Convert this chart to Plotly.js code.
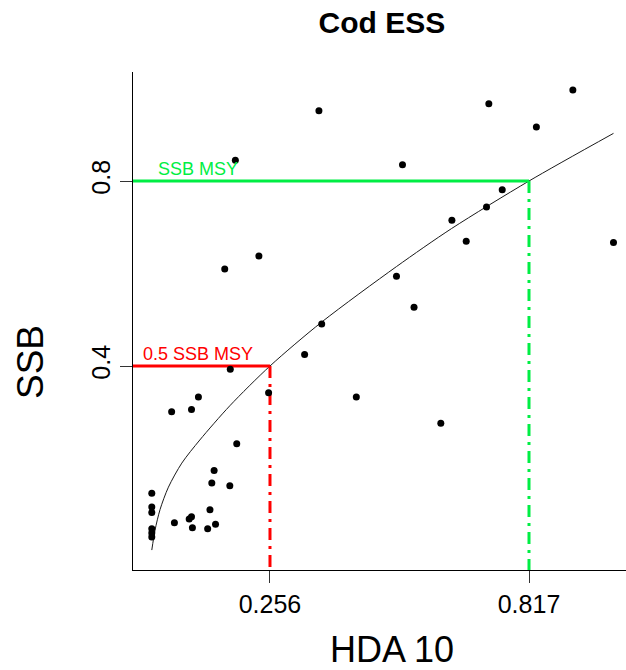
<!DOCTYPE html>
<html>
<head>
<meta charset="utf-8">
<script src="https://cdn.plot.ly/plotly-3.0.1.min.js"></script>
<style>html,body{margin:0;padding:0;background:#fff;}#chart{width:626px;height:670px;}</style>
</head>
<body>
<div id="chart"></div>
<script>
const hda = [0.000,0.000,0.000,0.000,0.000,0.000,0.049,0.081,0.086,0.088,0.126,0.121,0.138,0.130,0.135,0.169,0.184,0.043,0.086,0.101,0.170,0.253,0.331,0.368,0.443,0.158,0.232,0.181,0.362,0.530,0.568,0.626,0.543,0.650,0.681,0.725,0.759,0.730,0.833,0.912,1.000];
const ssb = [0.125,0.095,0.083,0.048,0.039,0.030,0.061,0.069,0.074,0.050,0.089,0.048,0.058,0.147,0.174,0.141,0.232,0.301,0.306,0.333,0.393,0.342,0.425,0.491,0.333,0.610,0.638,0.845,0.952,0.594,0.527,0.276,0.835,0.715,0.670,0.744,0.781,0.967,0.917,0.997,0.667];

// Fitted curve
const fitX = [0.000,0.007,0.018,0.036,0.065,0.104,0.169,0.256,0.368,0.530,0.649,0.817,1.000];
const fitY = [0.002,0.045,0.090,0.138,0.190,0.240,0.314,0.400,0.495,0.615,0.697,0.800,0.903];

// Reference points
const msyHda = 0.817, msySsb = 0.8;
const halfHda = 0.256, halfSsb = 0.4;

const xTicks = [0.256, 0.817];
const xTickText = ['0.256', '0.817'];
const yTicks = [0.4, 0.8];
const yTickText = ['0.4', '0.8'];

const xRange = [-0.0407, 1.0271];
const yRange = [-0.0411, 1.0357];

const red = '#ff0000';
const green = '#00ee44';
const dd = '12px,6px,3px,6px';

const traces = [
  {x: fitX, y: fitY, mode: 'lines', line: {color: '#1a1a1a', width: 1, shape: 'spline', smoothing: 0.8}, hoverinfo: 'skip'},
  {x: [xRange[0], halfHda], y: [halfSsb, halfSsb], mode: 'lines', line: {color: red, width: 3}},
  {x: [halfHda, halfHda], y: [halfSsb, yRange[0]], mode: 'lines', line: {color: red, width: 3, dash: dd}},
  {x: [xRange[0], msyHda], y: [msySsb, msySsb], mode: 'lines', line: {color: green, width: 3}},
  {x: [msyHda, msyHda], y: [msySsb, yRange[0]], mode: 'lines', line: {color: green, width: 3, dash: dd}},
  {x: hda, y: ssb, mode: 'markers', marker: {color: '#000', size: 7}}
];

const font = 'Liberation Sans, Arial, sans-serif';

const layout = {
  width: 626, height: 670,
  margin: {l: 133, r: 0, t: 72, b: 100, pad: 0},
  paper_bgcolor: '#fff', plot_bgcolor: '#fff',
  showlegend: false,
  font: {family: font, color: '#000'},
  title: {text: '<b>Cod ESS</b>', font: {size: 30, family: font, color: '#000'},
          xref: 'paper', x: 0.505, xanchor: 'center', yref: 'container', y: 1 - 22/670, yanchor: 'middle'},
  xaxis: {
    range: xRange, tickvals: xTicks, ticktext: xTickText,
    showgrid: false, zeroline: false, showline: true, linecolor: '#000', linewidth: 1,
    ticks: 'outside', ticklen: 12, tickcolor: '#333', tickwidth: 1,
    tickfont: {size: 25, family: font, color: '#000'}
  },
  yaxis: {
    range: yRange, tickvals: yTicks, ticktext: yTickText, tickangle: -90,
    showgrid: false, zeroline: false, showline: true, linecolor: '#000', linewidth: 1,
    ticks: 'outside', ticklen: 12, tickcolor: '#333', tickwidth: 1,
    tickfont: {size: 25, family: font, color: '#000'}
  },
  annotations: [
    {x: 0.1, y: msySsb, xref: 'x', yref: 'y', text: 'SSB MSY', showarrow: false,
     xanchor: 'center', yanchor: 'bottom', font: {size: 18, family: font, color: green}},
    {x: 0.1, y: halfSsb, xref: 'x', yref: 'y', text: '0.5 SSB MSY', showarrow: false,
     xanchor: 'center', yanchor: 'bottom', font: {size: 18, family: font, color: red}},
    {x: 0, y: 0.5, xref: 'paper', yref: 'paper', xshift: -103, yshift: -41, text: 'SSB', textangle: -90, showarrow: false,
     xanchor: 'center', yanchor: 'middle', font: {size: 37, family: font, color: '#000'}},
    {x: 0.525, y: 0, xref: 'paper', yref: 'paper', yshift: -79, text: 'HDA 10', showarrow: false,
     xanchor: 'center', yanchor: 'middle', font: {size: 36, family: font, color: '#000'}}
  ]
};

Plotly.newPlot('chart', traces, layout, {displayModeBar: false, staticPlot: true});
</script>
</body>
</html>
